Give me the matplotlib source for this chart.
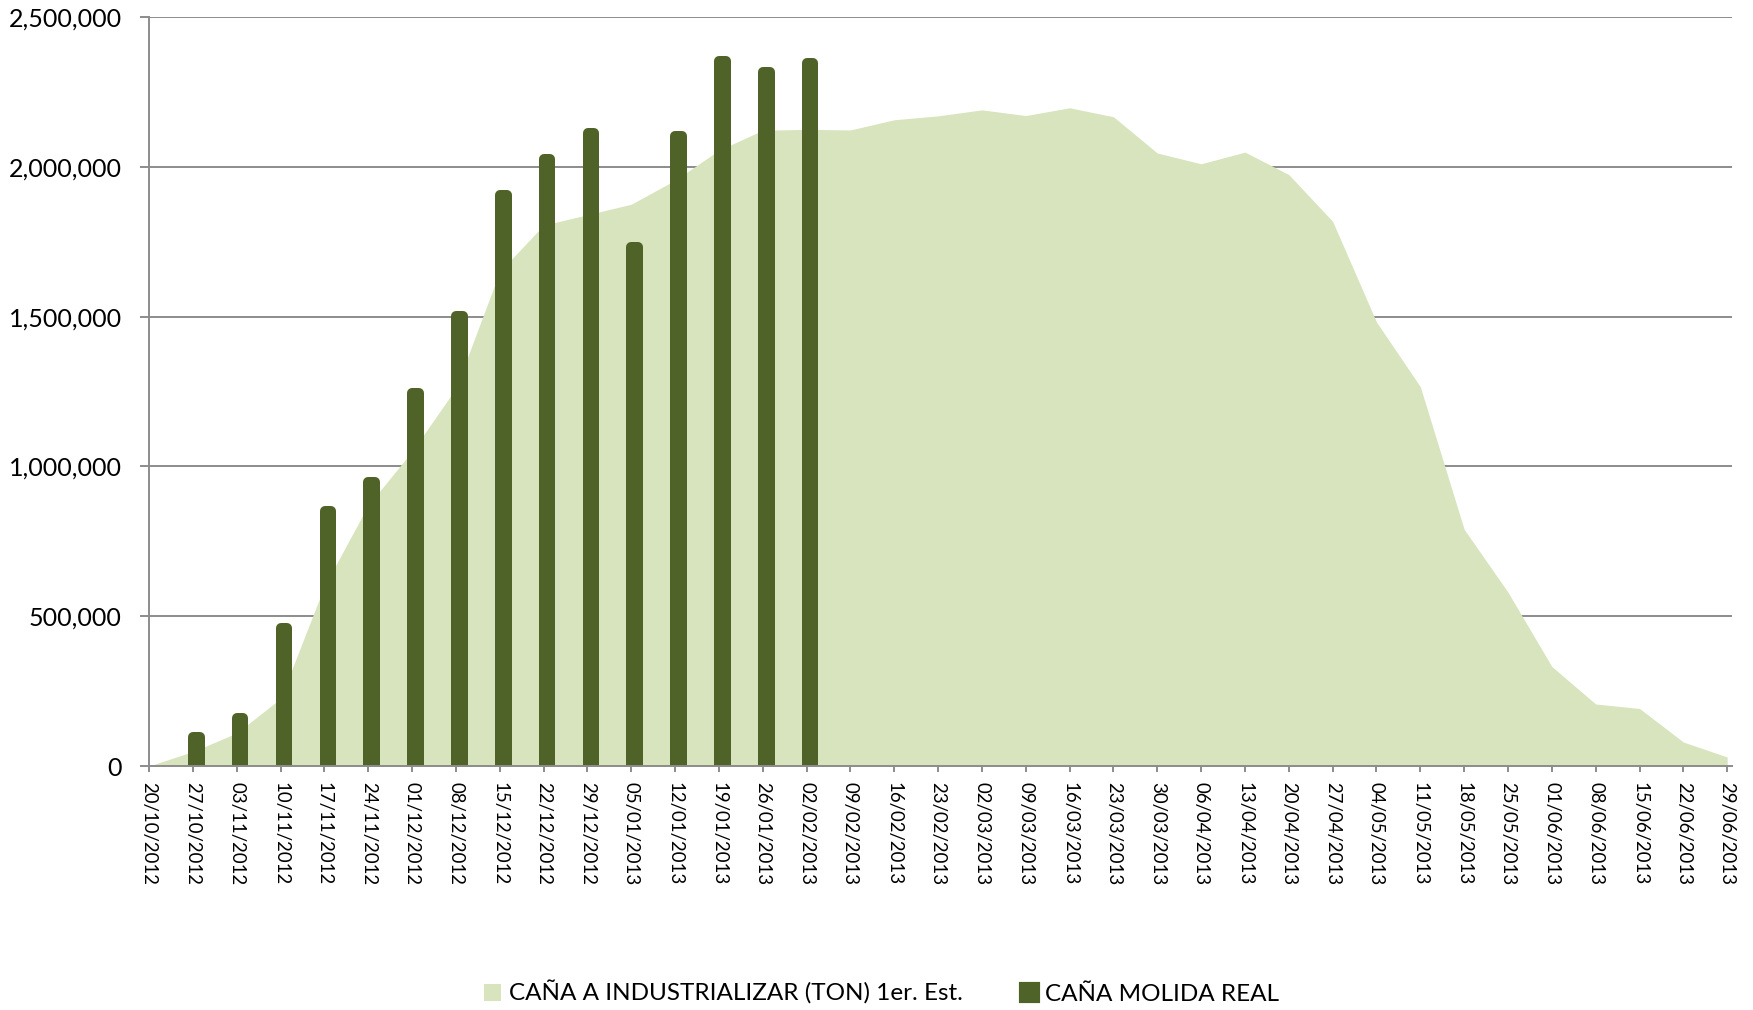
import numpy as np
import matplotlib.pyplot as plt
from matplotlib.patches import Patch
from matplotlib.ticker import FuncFormatter

plt.rcParams['font.family'] = ['Lato', 'DejaVu Sans']

# semanas de zafra
fechas = ['20/10/2012', '27/10/2012', '03/11/2012', '10/11/2012', '17/11/2012',
          '24/11/2012', '01/12/2012', '08/12/2012', '15/12/2012', '22/12/2012',
          '29/12/2012', '05/01/2013', '12/01/2013', '19/01/2013', '26/01/2013',
          '02/02/2013', '09/02/2013', '16/02/2013', '23/02/2013', '02/03/2013',
          '09/03/2013', '16/03/2013', '23/03/2013', '30/03/2013', '06/04/2013',
          '13/04/2013', '20/04/2013', '27/04/2013', '04/05/2013', '11/05/2013',
          '18/05/2013', '25/05/2013', '01/06/2013', '08/06/2013', '15/06/2013',
          '22/06/2013', '29/06/2013']

# CAÑA A INDUSTRIALIZAR (TON) 1er. Est.
cana_estimada = [0, 48000, 110000, 225000, 600000, 870000, 1050000, 1260000,
                 1650000, 1805000, 1840000, 1875000, 1955000, 2055000, 2122000,
                 2125000, 2123000, 2157000, 2170000, 2190000, 2171000, 2197000,
                 2167000, 2046000, 2010000, 2049000, 1974000, 1818000, 1482000,
                 1266000, 790000, 580000, 332000, 207000, 192000, 80000, 30000]

# CAÑA MOLIDA REAL (27/10/2012 - 02/02/2013)
fechas_molida = fechas[1:16]
cana_molida = [112000, 177000, 476000, 867000, 966000, 1261000, 1520000,
               1921000, 2043000, 2130000, 1748000, 2120000, 2369000, 2333000,
               2362000]

verde_claro = '#d7e4bd'
verde_oscuro = '#4f6228'
gris = '#8c8c8c'

W, H = 1753, 1010
fig = plt.figure(figsize=(W / 100, H / 100), dpi=100)
ax = fig.add_axes([149 / W, 244 / H, (1732 - 149) / W, (766 - 17) / H])

ymax = 2500000
x = np.arange(len(fechas))
ax.fill_between(x, 0, cana_estimada, color=verde_claro, lw=0, zorder=1)

# barras con esquinas redondeadas: el borde redondo sobresale medio grosor,
# se descuenta para que la punta quede en el valor
borde_px = 10
cap = (borde_px / 2) * ymax / (766 - 17)
x_bar = np.array([fechas.index(f) for f in fechas_molida]) + 0.08
ax.bar(x_bar, np.array(cana_molida) - cap, width=0.15, color=verde_oscuro,
       edgecolor=verde_oscuro, linewidth=borde_px * 0.72, joinstyle='round',
       zorder=3)

ax.set_xlim(0, 36.11)
ax.set_ylim(0, ymax)
ax.set_yticks(np.arange(0, ymax + 1, 500000))
ax.yaxis.set_major_formatter(FuncFormatter(lambda v, p: f'{v:,.0f}'))
ax.set_xticks(x)
ax.set_xticklabels(fechas, rotation=-90, ha='center', va='top', fontsize=13.4)

ax.set_axisbelow(True)
ax.yaxis.grid(True, color=gris, lw=1.4)
for s in ['top', 'right']:
    ax.spines[s].set_visible(False)
for s in ['left', 'bottom']:
    ax.spines[s].set_color(gris)
    ax.spines[s].set_linewidth(1.4)
    ax.spines[s].set_zorder(4)
ax.tick_params(axis='y', length=6.5, width=1.4, color=gris, pad=13,
               labelsize=18)
ax.tick_params(axis='x', length=4.5, width=1.4, color=gris, pad=7)

handles = [Patch(facecolor=verde_claro, label='CAÑA A INDUSTRIALIZAR (TON) 1er. Est.'),
           Patch(facecolor=verde_oscuro, edgecolor=verde_oscuro, joinstyle='round',
                 linewidth=3, label='CAÑA MOLIDA REAL')]
fig.legend(handles=handles, loc='center', bbox_to_anchor=(0.503, 17 / H),
           ncol=2, frameon=False, fontsize=17.5, handlelength=0.7,
           handleheight=0.7, handletextpad=0.3, columnspacing=2.4)

fig.savefig('out.png', dpi=100)
